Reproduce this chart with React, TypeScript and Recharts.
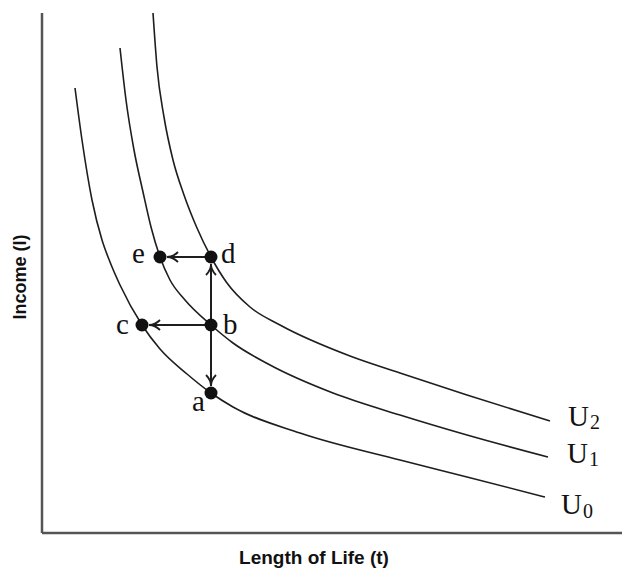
import {
  ComposedChart, Line, Scatter, XAxis, YAxis, ReferenceLine
} from 'recharts'

// Indifference curves: length of life (t) vs income (I)
const u0T = [33, 40, 50, 60, 68, 78, 100, 118, 145, 169, 191, 258, 358, 425, 503]
const u0I = [445, 393, 333, 293, 271, 248, 208, 184, 159, 140, 126, 100, 73, 56, 36]

const u1T = [78, 84, 92, 101, 109, 118, 128, 143, 169, 191, 228, 291, 358, 425, 506]
const u1I = [485, 433, 383, 341, 306, 276, 253, 233, 208, 190, 168, 140, 118, 98, 76]

const u2T = [111, 115, 122, 131, 142, 155, 169, 185, 208, 238, 308, 358, 425, 508]
const u2I = [520, 466, 416, 373, 338, 305, 276, 250, 226, 208, 177, 160, 138, 112]

// Marked bundles
const pointNames = ['a', 'b', 'c', 'd', 'e']
const pointT = [169, 169, 100, 169, 118]
const pointI = [140, 208, 208, 276, 276]

// Moves between bundles (from -> to)
const arrows: [string, string][] = [['b', 'd'], ['b', 'a'], ['b', 'c'], ['d', 'e']]

const curveNames = ['U0', 'U1', 'U2']

const zip = (t: number[], i: number[]) => t.map((x, k) => ({ x, y: i[k] }))

const curves = [zip(u0T, u0I), zip(u1T, u1I), zip(u2T, u2I)]
const points = pointNames.map((name, k) => ({ name, x: pointT[k], y: pointI[k] }))
const byName = (n: string) => points.find(p => p.name === n)!
const curveEnds = curves.map((c, k) => ({ ...c[c.length - 1], name: curveNames[k] }))

const INK = '#1e1e1e'
const SERIF = '"Liberation Serif", "Times New Roman", serif'
const SANS = '"Liberation Sans", Arial, sans-serif'

// where each letter sits relative to its dot
const letterOffset: Record<string, [number, number]> = {
  a: [-19, 18], b: [12, 9], c: [-26, 9], d: [10, 6], e: [-28, 6],
}
const curveLabelOffset: Record<string, [number, number, number]> = {
  U2: [18, 5, 3], U1: [19, 6, 3], U0: [16, 17, 4],
}

const Arrow = (p: any) => {
  const { x1, y1, x2, y2 } = p
  const dx = x2 - x1
  const dy = y2 - y1
  const len = Math.sqrt(dx * dx + dy * dy) || 1
  const ux = dx / len
  const uy = dy / len
  const tipX = x2 - ux * 7
  const tipY = y2 - uy * 7
  const back = 11
  const half = 5
  const bx = tipX - ux * back
  const by = tipY - uy * back
  const px = -uy
  const py = ux
  return (
    <g>
      <line x1={x1} y1={y1} x2={tipX} y2={tipY} stroke={INK} strokeWidth={2} />
      <path
        d={`M${bx + px * half},${by + py * half} Q${tipX - ux * 6},${tipY - uy * 6} ${tipX},${tipY} Q${tipX - ux * 6},${tipY - uy * 6} ${bx - px * half},${by - py * half}`}
        fill="none"
        stroke={INK}
        strokeWidth={1.8}
      />
    </g>
  )
}

const Dot = (p: any) => {
  const { cx, cy, payload } = p
  const [ox, oy] = letterOffset[payload.name] || [10, 5]
  return (
    <g>
      <circle cx={cx} cy={cy} r={6.5} fill="#111" />
      <text x={cx + ox} y={cy + oy} fontFamily={SERIF} fontSize={29} fill="#111">{payload.name}</text>
    </g>
  )
}

const CurveLabel = (p: any) => {
  const { cx, cy, payload } = p
  const [ox, oy, sub] = curveLabelOffset[payload.name] || [18, 5, 3]
  return (
    <text x={cx + ox} y={cy + oy} fontFamily={SERIF} fontSize={29} fill="#111">
      U<tspan fontSize={20} dx={1} dy={sub}>{payload.name.slice(1)}</tspan>
    </text>
  )
}

export default function App() {
  return (
    <div style={{ position: 'absolute', left: 0, top: 0, width: 622, height: 568, background: '#fff' }}>
      <ComposedChart width={622} height={568} margin={{ top: 13, right: 0, left: 42, bottom: 35 }}>
        <XAxis type="number" dataKey="x" domain={[0, 580]} allowDataOverflow hide />
        <YAxis type="number" dataKey="y" domain={[0, 520]} allowDataOverflow hide />
        <ReferenceLine x={0} stroke="#555" strokeWidth={2.5} ifOverflow="visible" />
        <ReferenceLine y={0} stroke="#555" strokeWidth={2.5} ifOverflow="visible" />
        {curves.map((c, k) => (
          <Line
            key={curveNames[k]}
            data={c}
            dataKey="y"
            type="monotone"
            stroke={INK}
            strokeWidth={1.6}
            dot={false}
            activeDot={false}
            isAnimationActive={false}
          />
        ))}
        {arrows.map(([from, to]) => {
          const a = byName(from)
          const b = byName(to)
          return (
            <ReferenceLine
              key={from + to}
              segment={[{ x: a.x, y: a.y }, { x: b.x, y: b.y }]}
              ifOverflow="visible"
              shape={Arrow}
            />
          )
        })}
        <Scatter data={points} dataKey="y" shape={Dot} isAnimationActive={false} />
        <Scatter data={curveEnds} dataKey="y" shape={CurveLabel} isAnimationActive={false} />
      </ComposedChart>
      <div style={{
        position: 'absolute', left: 20, top: 277, transform: 'translate(-50%, -50%) rotate(-90deg)',
        fontFamily: SANS, fontWeight: 'bold', fontSize: 18, whiteSpace: 'nowrap', color: '#111'
      }}>Income (I)</div>
      <div style={{
        position: 'absolute', left: 314, top: 558, transform: 'translate(-50%, -50%)',
        fontFamily: SANS, fontWeight: 'bold', fontSize: 19, whiteSpace: 'nowrap', color: '#111'
      }}>Length of Life (t)</div>
    </div>
  )
}
